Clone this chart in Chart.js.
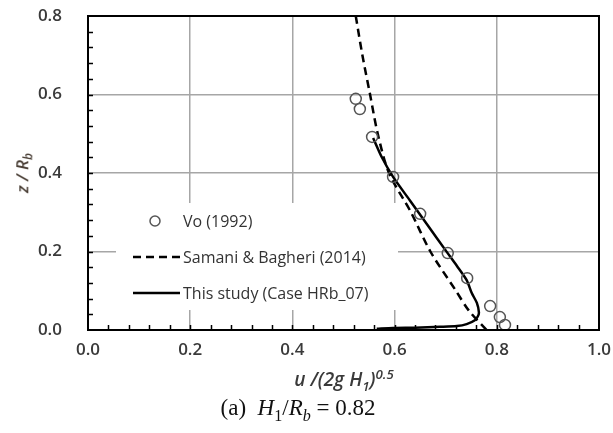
<html>
<head>
<meta charset="utf-8">
<script src="https://cdn.jsdelivr.net/npm/chart.js@4.4.0/dist/chart.umd.min.js"></script>
<style>
    body { margin: 0; background: white; overflow: hidden; }
    #wrap { position: relative; width: 613px; height: 433px; }
    canvas { display: block; }
    .lbl { position: absolute; white-space: nowrap; transform: translate(-50%, -50%); color: #3a3a3a; }
    #ytitle { left: 23px; top: 173px; font: italic 600 17px 'Open Sans', sans-serif; color: #4a3f36; transform: translate(-50%, -50%) rotate(-90deg); }
    #xtitle { left: 344px; top: 380px; font: italic 600 19px 'Open Sans', sans-serif; }
    #caption { left: 298px; top: 410px; font: 23px 'Liberation Serif', serif; color: #111; }
    sub, sup { font-size: 70%; }
</style>
</head>
<body>
<div id="wrap">
    <canvas id="myChart" width="613" height="433"></canvas>
    <div id="ytitle" class="lbl">z / R<sub>b</sub></div>
    <div id="xtitle" class="lbl">u /(2g H<sub>1</sub>)<sup>0.5</sup></div>
    <div id="caption" class="lbl">(a)&nbsp; <i>H</i><sub>1</sub>/<i>R</i><sub><i>b</i></sub> = 0.82</div>
</div>

<script>
    // measured points, Vo (1992)
    var voU = [0.524, 0.532, 0.556, 0.597, 0.650, 0.704, 0.742, 0.787, 0.806, 0.816];
    var voZ = [0.589, 0.563, 0.492, 0.390, 0.296, 0.196, 0.132, 0.061, 0.033, 0.013];

    // Samani & Bagheri (2014) profile
    var samaniU = [0.524, 0.537, 0.552, 0.567, 0.589, 0.632, 0.670, 0.720, 0.745, 0.780];
    var samaniZ = [0.80, 0.70, 0.60, 0.50, 0.40, 0.30, 0.20, 0.10, 0.05, 0.00];

    // this study (Case HRb_07)
    var studyU = [0.558, 0.575, 0.597, 0.630, 0.663, 0.702, 0.722, 0.741, 0.751, 0.761, 0.765, 0.763, 0.757, 0.741, 0.722, 0.689, 0.640, 0.597, 0.565];
    var studyZ = [0.489, 0.440, 0.390, 0.330, 0.270, 0.199, 0.163, 0.127, 0.094, 0.069, 0.045, 0.035, 0.025, 0.015, 0.010, 0.008, 0.006, 0.005, 0.003];

    var xRange = [0, 1.0];
    var yRange = [0, 0.8];
    var majorStep = 0.2;
    var minorStep = 0.04;

    var legendLabels = ['Vo (1992)', 'Samani & Bagheri (2014)', 'This study (Case HRb_07)'];

    function toPoints(us, zs) {
        return us.map(function (u, i) { return { x: u, y: zs[i] }; });
    }

    // white legend box + inner tick marks + black frame
    var decorations = {
        id: 'decorations',
        beforeDatasetsDraw: function (chart) {
            var c = chart.ctx, a = chart.chartArea;
            c.save();
            c.fillStyle = 'white';
            c.fillRect(a.left + 28, a.top + 187, 282, 107);

            var rows = [a.top + 205, a.top + 241, a.top + 277];
            c.font = "500 16px 'Open Sans', sans-serif";
            c.fillStyle = '#333';
            c.textBaseline = 'middle';
            for (var i = 0; i < 3; i++) {
                c.fillText(legendLabels[i], a.left + 95, rows[i] + 1);
            }
            // circle marker
            c.strokeStyle = '#555';
            c.lineWidth = 1.5;
            c.beginPath();
            c.arc(a.left + 67, rows[0], 5, 0, Math.PI * 2);
            c.stroke();
            // dashed
            c.strokeStyle = 'black';
            c.lineWidth = 2.5;
            c.setLineDash([8, 5]);
            c.beginPath();
            c.moveTo(a.left + 45, rows[1]);
            c.lineTo(a.left + 92, rows[1]);
            c.stroke();
            // solid
            c.setLineDash([]);
            c.beginPath();
            c.moveTo(a.left + 45, rows[2]);
            c.lineTo(a.left + 92, rows[2]);
            c.stroke();
            c.restore();
        },
        afterDraw: function (chart) {
            var c = chart.ctx, a = chart.chartArea;
            var xs = chart.scales.x, ys = chart.scales.y;
            c.save();
            c.strokeStyle = 'black';
            c.lineWidth = 1.5;
            c.beginPath();
            for (var i = 1; i < 25; i++) {
                var px = Math.round(xs.getPixelForValue(i * minorStep)) + 0.5;
                c.moveTo(px, a.bottom);
                c.lineTo(px, a.bottom - 5);
            }
            for (var j = 1; j < 20; j++) {
                var py = Math.round(ys.getPixelForValue(j * minorStep)) + 0.5;
                c.moveTo(a.left, py);
                c.lineTo(a.left + 5, py);
            }
            c.stroke();
            c.lineWidth = 2;
            c.strokeRect(a.left, a.top, a.right - a.left, a.bottom - a.top);
            c.restore();
        }
    };

    function majorLabel(value) {
        return value.toFixed(1);
    }

    var paintingCanvas = document.getElementById('myChart').getContext('2d');
    var chart = new Chart(paintingCanvas, {
        type: 'scatter',
        data: {
            datasets: [
                {
                    label: legendLabels[0],
                    data: toPoints(voU, voZ),
                    showLine: false,
                    pointRadius: 5.5,
                    pointBorderWidth: 1.5,
                    pointBorderColor: '#555',
                    pointBackgroundColor: 'rgba(0,0,0,0)'
                },
                {
                    label: legendLabels[2],
                    data: toPoints(studyU, studyZ),
                    showLine: true,
                    borderColor: 'black',
                    borderWidth: 2.5,
                    pointRadius: 0,
                    tension: 0.25
                },
                {
                    label: legendLabels[1],
                    data: toPoints(samaniU, samaniZ),
                    showLine: true,
                    borderColor: 'black',
                    borderWidth: 2.5,
                    borderDash: [8, 5],
                    pointRadius: 0,
                    tension: 0.3
                }
            ]
        },
        options: {
            responsive: false,
            animation: false,
            layout: { padding: { left: 0, top: 16, right: 14, bottom: 63 } },
            plugins: {
                legend: { display: false },
                tooltip: { enabled: false }
            },
            scales: {
                x: {
                    type: 'linear',
                    min: xRange[0],
                    max: xRange[1],
                    afterFit: function (s) { s.height = 40; },
                    border: { display: false },
                    grid: { color: '#a6a6a6', lineWidth: 1.5, drawTicks: true, tickLength: 9, tickColor: 'rgba(0,0,0,0)' },
                    ticks: {
                        stepSize: majorStep,
                        maxRotation: 0,
                        padding: 1,
                        color: '#3a3a3a',
                        font: { family: "'Open Sans', sans-serif", size: 17, weight: '600' },
                        callback: majorLabel
                    }
                },
                y: {
                    type: 'linear',
                    min: yRange[0],
                    max: yRange[1],
                    afterFit: function (s) { s.width = 88; },
                    border: { display: false },
                    grid: { color: '#a6a6a6', lineWidth: 1.5, drawTicks: true, tickLength: 22, tickColor: 'rgba(0,0,0,0)' },
                    ticks: {
                        stepSize: majorStep,
                        padding: 4,
                        color: '#3a3a3a',
                        font: { family: "'Open Sans', sans-serif", size: 17, weight: '600' },
                        callback: majorLabel
                    }
                }
            }
        },
        plugins: [decorations]
    });
</script>
</body>
</html>
